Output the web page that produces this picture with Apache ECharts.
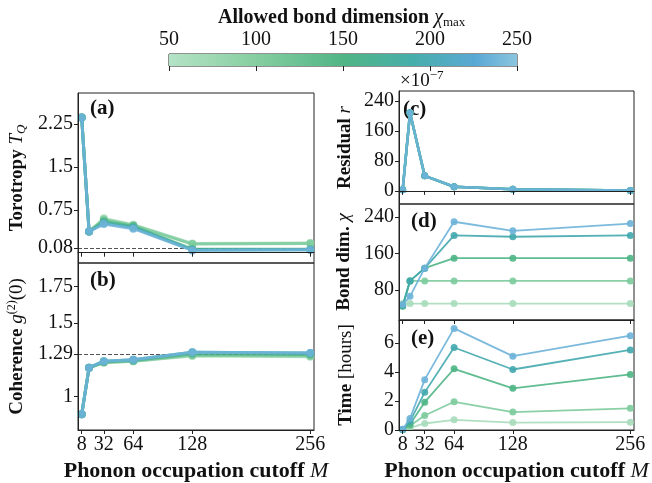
<!DOCTYPE html>
<html>
<head>
<meta charset="utf-8">
<script src="https://cdn.jsdelivr.net/npm/echarts@6/dist/echarts.min.js"></script>
<style>
  html, body { margin: 0; padding: 0; background: #fff; }
  #chart { width: 652px; height: 483px; }
</style>
</head>
<body>
<div id="chart"></div>
<script>
// phonon cutoff M on the x axis
const cutoffs = [8, 16, 32, 64, 128, 256];
const xTicks = [8, 32, 64, 128, 256];
// allowed bond dimension chi_max, one line per value
const chiMax = [50, 100, 150, 200, 250];
const colors = ['#a9dcbb', '#7dcb9d', '#4fb585', '#42a9ad', '#6db3d8'];

// (a) torotropy T_Q
const torotropy = [
  [2.36, 0.37, 0.60, 0.49, 0.16, 0.17],
  [2.36, 0.37, 0.58, 0.48, 0.15, 0.16],
  [2.36, 0.37, 0.55, 0.46, 0.06, 0.06],
  [2.36, 0.37, 0.52, 0.44, 0.05, 0.05],
  [2.36, 0.37, 0.50, 0.42, 0.04, 0.05]
];
// (b) coherence g2(0)
const coherence = [
  [0.878, 1.195, 1.23, 1.24, 1.275, 1.27],
  [0.878, 1.195, 1.23, 1.24, 1.28, 1.275],
  [0.878, 1.195, 1.235, 1.245, 1.29, 1.285],
  [0.878, 1.195, 1.24, 1.25, 1.30, 1.295],
  [0.878, 1.195, 1.24, 1.25, 1.30, 1.295]
];
// (c) residual r, in units of 1e-7
const residual = [
  [3, 208, 40, 11, 4, 1],
  [3, 208, 40, 11, 4, 1],
  [3, 208, 40, 11, 4, 1],
  [3, 208, 40, 11, 4, 1],
  [3, 208, 40, 11, 4, 1]
];
// (d) bond dimension chi reached
const bondDim = [
  [50, 50, 50, 50, 50, 50],
  [45, 100, 100, 100, 100, 100],
  [44, 100, 128, 150, 150, 150],
  [46, 100, 128, 200, 197, 200],
  [48, 66, 128, 230, 210, 226]
];
// (e) run time in hours
const hours = [
  [0.02, 0.15, 0.45, 0.70, 0.51, 0.54],
  [0.02, 0.30, 1.00, 1.95, 1.24, 1.50],
  [0.03, 0.40, 1.92, 4.23, 2.88, 3.84],
  [0.04, 0.60, 2.60, 5.70, 4.18, 5.53],
  [0.05, 0.80, 3.48, 7.02, 5.10, 6.52]
];

const tqTicks = [0.08, 0.75, 1.5, 2.25];
const g2Ticks = [1, 1.29, 1.5, 1.75];
const resTicks = [0, 80, 160, 240];
const bondTicks = [80, 160, 240];
const timeTicks = [0, 2, 4, 6];

const serif = 'Liberation Serif';
const ink = '#222';

const grids = [
  { left: 78, top: 93, width: 236, height: 170 },
  { left: 78, top: 263, width: 236, height: 172 },
  { left: 399, top: 91, width: 235, height: 113 },
  { left: 399, top: 204, width: 235, height: 116 },
  { left: 399, top: 320, width: 235, height: 114 },
  { left: 169, top: 54, width: 348, height: 12 }
];
grids.forEach(g => { g.show = true; g.borderColor = ink; g.borderWidth = 1; g.backgroundColor = 'transparent'; });

const xName = {
  name: '{b|Phonon occupation cutoff }{i|M}',
  nameLocation: 'middle',
  nameGap: 30,
  nameTextStyle: {
    rich: {
      b: { fontFamily: serif, fontWeight: 'bold', fontSize: 22, color: '#111' },
      i: { fontFamily: serif, fontStyle: 'italic', fontSize: 22, color: '#111' }
    }
  }
};

function xAxisFor(idx, showLabels) {
  const ax = {
    type: 'value', gridIndex: idx, min: 4, max: 260,
    splitLine: { show: false },
    axisLine: { lineStyle: { color: ink } },
    axisTick: { customValues: xTicks, inside: false, length: 4, lineStyle: { color: ink } },
    axisLabel: { show: showLabels, customValues: xTicks, fontFamily: serif, fontSize: 20, color: '#111', margin: 5 },
    z: 10
  };
  if (showLabels) Object.assign(ax, xName);
  return ax;
}

function yAxisFor(idx, min, max, ticks, name, gap, rich) {
  return {
    type: 'value', gridIndex: idx, min: min, max: max,
    splitLine: { show: false },
    axisLine: { lineStyle: { color: ink } },
    axisTick: { customValues: ticks, inside: false, length: 4, lineStyle: { color: ink } },
    axisLabel: { customValues: ticks, fontFamily: serif, fontSize: 20, color: '#111', margin: 5,
      formatter: v => String(v) },
    name: name, nameLocation: 'middle', nameRotate: 90, nameGap: gap,
    nameTextStyle: { rich: rich },
    z: 10
  };
}

const richBase = {
  b: { fontFamily: serif, fontWeight: 'bold', fontSize: 19, color: '#111', lineHeight: 22 },
  n: { fontFamily: serif, fontSize: 19, color: '#111', lineHeight: 22 },
  i: { fontFamily: serif, fontStyle: 'italic', fontSize: 19, color: '#111', lineHeight: 22 },
  sub: { fontFamily: serif, fontStyle: 'italic', fontSize: 13, color: '#111', lineHeight: 14, verticalAlign: 'bottom' },
  sup: { fontFamily: serif, fontSize: 12, color: '#111', lineHeight: 12, verticalAlign: 'top' }
};

function panelSeries(idx, arrays, width, size, opacity) {
  return arrays.map((arr, k) => ({
    type: 'line',
    name: 'chi ' + chiMax[k],
    xAxisIndex: idx, yAxisIndex: idx,
    data: cutoffs.map((m, i) => [m, arr[i]]),
    color: colors[k],
    lineStyle: { width: width, opacity: opacity },
    itemStyle: { opacity: opacity },
    symbol: 'circle', symbolSize: size,
    z: 3 + k
  }));
}

function refLine(idx, value) {
  return {
    type: 'line', xAxisIndex: idx, yAxisIndex: idx, data: [], z: 2,
    markLine: {
      silent: true, symbol: 'none', label: { show: false },
      lineStyle: { type: 'dashed', color: '#555', width: 1 },
      data: [{ yAxis: value }]
    }
  };
}

const series = [].concat(
  [refLine(0, 0.08), refLine(1, 1.29)],
  panelSeries(0, torotropy, 3, 8, 0.85),
  panelSeries(1, coherence, 3, 8, 0.85),
  panelSeries(2, residual, 2.5, 7, 0.9),
  panelSeries(3, bondDim, 1.8, 7, 0.9),
  panelSeries(4, hours, 1.8, 7, 0.9),
  [{
    type: 'line', xAxisIndex: 5, yAxisIndex: 5, data: [], z: 1,
    markArea: {
      silent: true,
      itemStyle: {
        color: {
          type: 'linear', x: 0, y: 0, x2: 1, y2: 0,
          colorStops: [
            { offset: 0, color: '#b4e3c5' },
            { offset: 0.25, color: '#86cea1' },
            { offset: 0.5, color: '#50b585' },
            { offset: 0.7, color: '#46aeaa' },
            { offset: 0.88, color: '#5aa8d5' },
            { offset: 1, color: '#8ac5df' }
          ]
        }
      },
      data: [[{ xAxis: 50 }, { xAxis: 250 }]]
    }
  }]
);

const option = {
  animation: false,
  backgroundColor: '#fff',
  textStyle: { fontFamily: serif },
  grid: grids,
  xAxis: [
    xAxisFor(0, false), xAxisFor(1, true), xAxisFor(2, false), xAxisFor(3, false), xAxisFor(4, true),
    {
      type: 'value', gridIndex: 5, min: 50, max: 250, interval: 50, position: 'top',
      splitLine: { show: false },
      axisLine: { show: false },
      axisTick: { inside: true, length: 5, lineStyle: { color: ink } },
      axisLabel: { fontFamily: serif, fontSize: 20, color: '#111', margin: 4 },
      z: 10
    }
  ],
  yAxis: [
    yAxisFor(0, -0.18, 2.79, tqTicks, '{b|Torotropy }{i|T}{sub|Q}', 50, richBase),
    yAxisFor(1, 0.77, 1.91, g2Ticks, '{b|Coherence }{i|g}{sup|(2)}{n|(0)}', 50, richBase),
    yAxisFor(2, -35, 266, resTicks, '{b|Residual }{i|r}', 43, richBase),
    yAxisFor(3, 14, 269, bondTicks, '{b|Bond dim. }{i|χ}', 44, richBase),
    yAxisFor(4, 0, 7.6, timeTicks, '{b|Time }{n|[hours]}', 42, richBase),
    { type: 'value', gridIndex: 5, min: 0, max: 1, show: false }
  ],
  series: series,
  graphic: [
    { type: 'text', left: 218, top: 8, style: {
        text: '{b|Allowed bond dimension }{i|χ}{s|max}',
        rich: {
          b: { fontFamily: serif, fontWeight: 'bold', fontSize: 20, fill: '#111', lineHeight: 22 },
          i: { fontFamily: serif, fontStyle: 'italic', fontSize: 20, fill: '#111', lineHeight: 22 },
          s: { fontFamily: serif, fontSize: 13, fill: '#111', lineHeight: 14, verticalAlign: 'bottom' }
        } } },
    { type: 'text', left: 400, top: 69, style: {
        text: '{n|×10}{s|−7}',
        rich: {
          n: { fontFamily: serif, fontSize: 19, fill: '#111', lineHeight: 22, verticalAlign: 'bottom' },
          s: { fontFamily: serif, fontSize: 13, fill: '#111', lineHeight: 13, verticalAlign: 'top' }
        } } },
    { type: 'text', left: 90, top: 98, style: { text: '(a)', font: 'bold 21px "Liberation Serif"', fill: '#111' } },
    { type: 'text', left: 90, top: 270, style: { text: '(b)', font: 'bold 21px "Liberation Serif"', fill: '#111' } },
    { type: 'text', left: 403, top: 99, style: { text: '(c)', font: 'bold 21px "Liberation Serif"', fill: '#111' } },
    { type: 'text', left: 411, top: 211, style: { text: '(d)', font: 'bold 21px "Liberation Serif"', fill: '#111' } },
    { type: 'text', left: 411, top: 328, style: { text: '(e)', font: 'bold 21px "Liberation Serif"', fill: '#111' } }
  ]
};

const chart = echarts.init(document.getElementById('chart'), null, { renderer: 'canvas' });
chart.setOption(option);
</script>
</body>
</html>
